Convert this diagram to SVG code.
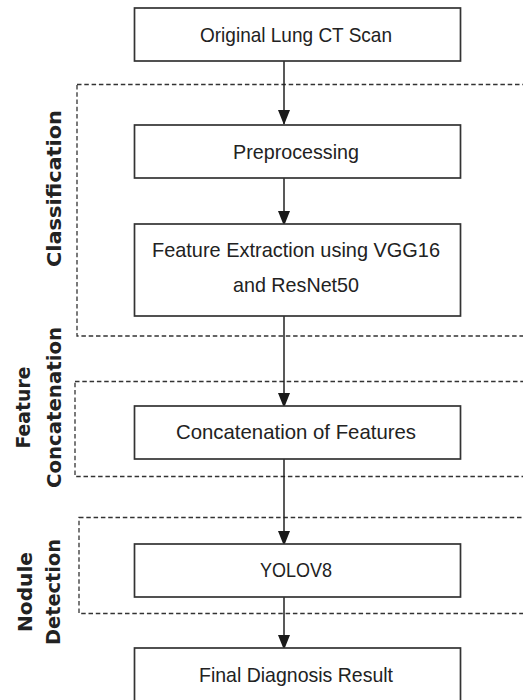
<svg xmlns="http://www.w3.org/2000/svg" width="523" height="700" viewBox="0 0 523 700">
<defs>
<style>
.box{fill:#fff;stroke:#333;stroke-width:1.7}
.grp{fill:none;stroke:#333;stroke-width:1.3;stroke-dasharray:4.5 2.8}
.t{font-family:"Liberation Sans",Arial,sans-serif;font-size:21px;fill:#222;text-anchor:middle}
.s{font-family:"DejaVu Sans",Verdana,sans-serif;font-weight:bold;font-size:20px;fill:#222;text-anchor:middle}
.c{stroke:#222;stroke-width:1.5;fill:none}
</style>
<marker id="arr" markerWidth="15" markerHeight="12" refX="14" refY="6" orient="auto" markerUnits="userSpaceOnUse" viewBox="0 0 15 12">
<path d="M0,0 L15,6 L0,12 Z" fill="#1a1a1a"/>
</marker>
</defs>
<rect width="523" height="700" fill="#fff"/>
<g id="groups">
<g id="grp-classification">
<rect class="grp" x="77" y="84.5" width="470" height="251.5"/>
<text class="s" transform="translate(61,188.5) rotate(-90)" textLength="157" lengthAdjust="spacingAndGlyphs">Classification</text>
</g>
<g id="grp-concat">
<rect class="grp" x="75" y="381.5" width="470" height="95"/>
<text class="s" transform="translate(30,407.5) rotate(-90)" textLength="82" lengthAdjust="spacingAndGlyphs">Feature</text>
<text class="s" transform="translate(61,407.5) rotate(-90)" textLength="161" lengthAdjust="spacingAndGlyphs">Concatenation</text>
</g>
<g id="grp-detection">
<rect class="grp" x="79" y="517.5" width="470" height="96"/>
<text class="s" transform="translate(32,592) rotate(-90)" textLength="80" lengthAdjust="spacingAndGlyphs">Nodule</text>
<text class="s" transform="translate(60,592) rotate(-90)" textLength="106" lengthAdjust="spacingAndGlyphs">Detection</text>
</g>
</g>
<g id="connectors">
<line class="c" x1="284" y1="61" x2="284" y2="124" marker-end="url(#arr)"/>
<line class="c" x1="284" y1="178" x2="284" y2="225" marker-end="url(#arr)"/>
<line class="c" x1="284" y1="316" x2="284" y2="407" marker-end="url(#arr)"/>
<line class="c" x1="284" y1="459" x2="284" y2="545" marker-end="url(#arr)"/>
<line class="c" x1="284" y1="597" x2="284" y2="649" marker-end="url(#arr)"/>
</g>
<g id="n1">
<rect class="box" x="134.5" y="8" width="326" height="53"/>
<text class="t" x="296" y="41.5" textLength="192" lengthAdjust="spacingAndGlyphs">Original Lung CT Scan</text>
</g>
<g id="n2">
<rect class="box" x="134.5" y="125" width="326" height="53"/>
<text class="t" x="296" y="158.5" textLength="126" lengthAdjust="spacingAndGlyphs">Preprocessing</text>
</g>
<g id="n3">
<rect class="box" x="134.5" y="224" width="326" height="92"/>
<text class="t" x="296" y="257" textLength="288" lengthAdjust="spacingAndGlyphs">Feature Extraction using VGG16</text>
<text class="t" x="296" y="292" textLength="126" lengthAdjust="spacingAndGlyphs">and ResNet50</text>
</g>
<g id="n4">
<rect class="box" x="134.5" y="406" width="326" height="53"/>
<text class="t" x="296" y="439" textLength="240" lengthAdjust="spacingAndGlyphs">Concatenation of Features</text>
</g>
<g id="n5">
<rect class="box" x="134.5" y="544" width="326" height="53"/>
<text class="t" x="296" y="577" textLength="72" lengthAdjust="spacingAndGlyphs">YOLOV8</text>
</g>
<g id="n6">
<rect class="box" x="134.5" y="648" width="326" height="53"/>
<text class="t" x="296" y="682" textLength="194" lengthAdjust="spacingAndGlyphs">Final Diagnosis Result</text>
</g>
</svg>
